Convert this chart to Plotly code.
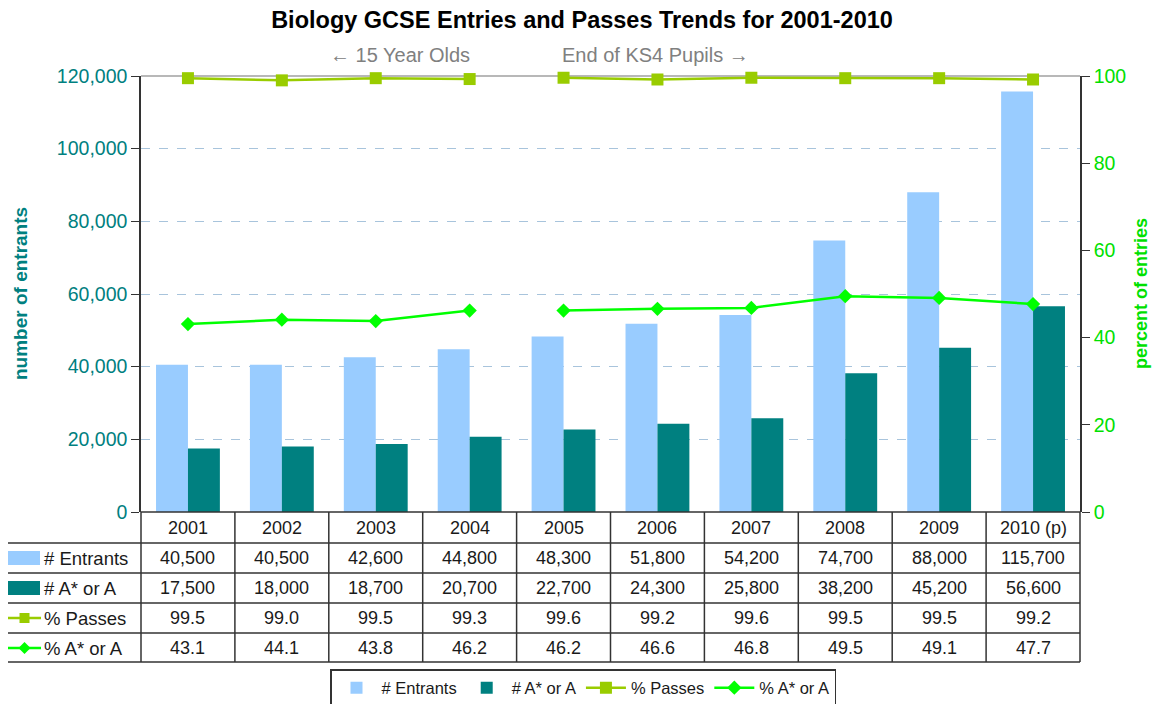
import plotly.graph_objects as go

years = ["2001", "2002", "2003", "2004", "2005", "2006", "2007", "2008", "2009", "2010 (p)"]
entrants = [40500, 40500, 42600, 44800, 48300, 51800, 54200, 74700, 88000, 115700]
a_star_a = [17500, 18000, 18700, 20700, 22700, 24300, 25800, 38200, 45200, 56600]
pct_passes = [99.5, 99.0, 99.5, 99.3, 99.6, 99.2, 99.6, 99.5, 99.5, 99.2]
pct_a_star = [43.1, 44.1, 43.8, 46.2, 46.2, 46.6, 46.8, 49.5, 49.1, 47.7]
series_names = ["# Entrants", "# A* or A", "% Passes", "% A* or A"]
cohort_break = 4  # lines break between 2004 (15 year olds) and 2005 (end of KS4 pupils)

C_ENT = "#99CCFF"
C_AA = "#008080"
C_PASS = "#99CC00"
C_PAA = "#00FF00"
C_RIGHT = "#00E000"
FONT = "Liberation Sans, Arial, sans-serif"

# the page body has an 8px margin, so the figure is drawn 8px smaller and coordinates
# below are given in screenshot pixels
OFF = 8
PAGE_W, PAGE_H = 1161, 704
W, H = PAGE_W - OFF, PAGE_H - OFF
L, R, T, B = 141, 1080, 76, 512  # plot area in screenshot pixels

def xp(px):
    return (px - L) / (R - L)

def yp(py):
    return (B - py) / (B - T)

idx = list(range(len(years)))
fig = go.Figure()
fig.add_trace(go.Bar(x=idx, y=entrants, name=series_names[0], marker_color=C_ENT,
                     marker_line_width=0))
fig.add_trace(go.Bar(x=idx, y=a_star_a, name=series_names[1], marker_color=C_AA,
                     marker_line_width=0))

segments = [(0, cohort_break), (cohort_break, len(years))]
for vals, name, color, sym, size in [(pct_passes, series_names[2], C_PASS, "square", 12),
                                     (pct_a_star, series_names[3], C_PAA, "diamond", 11)]:
    for k, (a, b) in enumerate(segments):
        fig.add_trace(go.Scatter(x=idx[a:b], y=vals[a:b], name=name, yaxis="y2",
                                 mode="lines+markers", legendgroup=name,
                                 showlegend=(k == 0), cliponaxis=False,
                                 line=dict(color=color, width=2.5),
                                 marker=dict(symbol=sym, size=size, color=color)))

shapes = []
line_c = "#333333"
# top border of plot
shapes.append(dict(type="line", xref="paper", yref="paper", x0=0, x1=1, y0=1, y1=1,
                   line=dict(color="#A0A0A0", width=1.5), layer="below"))
# table horizontal lines
shapes.append(dict(type="line", xref="paper", yref="paper", x0=0, x1=1, y0=yp(512), y1=yp(512),
                   line=dict(color=line_c, width=1.5)))
row_lines = [543, 573, 603, 633, 662]
for py in row_lines:
    shapes.append(dict(type="line", xref="paper", yref="paper", x0=xp(4), x1=1, y0=yp(py), y1=yp(py),
                       line=dict(color=line_c, width=1.5)))
# table vertical lines
shapes.append(dict(type="line", xref="paper", yref="paper", x0=xp(4), x1=xp(4), y0=yp(543), y1=yp(662),
                   line=dict(color=line_c, width=1.5)))
for k in range(len(years) + 1):
    xv = k / len(years)
    shapes.append(dict(type="line", xref="paper", yref="paper", x0=xv, x1=xv, y0=yp(512), y1=yp(662),
                       line=dict(color=line_c, width=1.5)))

annotations = []
TXT = "#1a1a1a"
# header row
for i, yr in enumerate(years):
    annotations.append(dict(x=i, xref="x", y=yp(528), yref="paper", text=yr, showarrow=False,
                            xanchor="center", yanchor="middle",
                            font=dict(size=18, color=TXT, family=FONT)))
rows = [
    ([f"{v:,}" for v in entrants], 558),
    ([f"{v:,}" for v in a_star_a], 588),
    ([f"{v:.1f}" for v in pct_passes], 618),
    ([f"{v:.1f}" for v in pct_a_star], 648),
]
for r, (vals, py) in enumerate(rows):
    annotations.append(dict(x=xp(42), xref="paper", y=yp(py), yref="paper", text=series_names[r],
                            showarrow=False, xanchor="left", yanchor="middle",
                            font=dict(size=18.5, color=TXT, family=FONT)))
    for i, v in enumerate(vals):
        annotations.append(dict(x=i, xref="x", y=yp(py), yref="paper", text=v, showarrow=False,
                                xanchor="center", yanchor="middle",
                                font=dict(size=18, color=TXT, family=FONT)))

# legend keys in table label column
shapes.append(dict(type="rect", xref="paper", yref="paper", x0=xp(8), x1=xp(40), y0=yp(551), y1=yp(565),
                   fillcolor=C_ENT, line=dict(width=0)))
shapes.append(dict(type="rect", xref="paper", yref="paper", x0=xp(8), x1=xp(40), y0=yp(581), y1=yp(595),
                   fillcolor=C_AA, line=dict(width=0)))
for py, color in [(618, C_PASS), (648, C_PAA)]:
    shapes.append(dict(type="line", xref="paper", yref="paper", x0=xp(8), x1=xp(41), y0=yp(py), y1=yp(py),
                       line=dict(color=color, width=2.5)))
shapes.append(dict(type="rect", xref="paper", yref="paper", x0=xp(19.5), x1=xp(29.5), y0=yp(613), y1=yp(623),
                   fillcolor=C_PASS, line=dict(width=0)))
cx, cy = 24.5, 648
path = f"M {xp(cx-6)},{yp(cy)} L {xp(cx)},{yp(cy-6)} L {xp(cx+6)},{yp(cy)} L {xp(cx)},{yp(cy+6)} Z"
shapes.append(dict(type="path", xref="paper", yref="paper", path=path, fillcolor=C_PAA, line=dict(width=0)))

# cohort annotations
annotations.append(dict(x=xp(400), xref="paper", y=yp(55), yref="paper", text="\u2190 15 Year Olds",
                        showarrow=False, xanchor="center", yanchor="middle",
                        font=dict(size=20, color="#808080", family=FONT)))
annotations.append(dict(x=xp(655), xref="paper", y=yp(55), yref="paper", text="End of KS4 Pupils \u2192",
                        showarrow=False, xanchor="center", yanchor="middle",
                        font=dict(size=20, color="#808080", family=FONT)))

# axis titles
annotations.append(dict(x=xp(20), xref="paper", y=yp(294), yref="paper", text="<b>number of entrants</b>",
                        textangle=-90, showarrow=False, xanchor="center", yanchor="middle",
                        font=dict(size=19, color=C_AA, family=FONT)))
annotations.append(dict(x=xp(1141), xref="paper", y=yp(294), yref="paper", text="<b>percent of entries</b>",
                        textangle=-90, showarrow=False, xanchor="center", yanchor="middle",
                        font=dict(size=18, color=C_RIGHT, family=FONT)))

fig.update_layout(
    width=W, height=H,
    margin=dict(l=L - OFF, r=W - (R - OFF), t=T - OFF, b=H - (B - OFF), autoexpand=False),
    paper_bgcolor="white", plot_bgcolor="white",
    font=dict(family=FONT),
    title=dict(text="<b>Biology GCSE Entries and Passes Trends for 2001-2010</b>",
               x=(582 - OFF) / W, xref="container", xanchor="center",
               y=1 - (20 - OFF) / H, yref="container", yanchor="middle",
               font=dict(size=23.5, color="#000000", family=FONT)),
    barmode="group", bargap=0.32, bargroupgap=0,
    xaxis=dict(range=[-0.5, len(years) - 0.5], showticklabels=False, showgrid=False,
               zeroline=False, ticks="", showline=False, fixedrange=True, automargin=False),
    yaxis=dict(range=[0, 120000], dtick=20000, tickformat=",", showgrid=True,
               gridcolor="#A8C4DC", griddash="dash", gridwidth=1, zeroline=False,
               showline=True, linecolor="#333333", linewidth=1.5, automargin=False,
               ticks="outside", ticklen=8, tickcolor="#333333",
               tickfont=dict(size=19.5, color=C_AA, family=FONT)),
    yaxis2=dict(range=[0, 100], dtick=20, overlaying="y", side="right", showgrid=False,
                zeroline=False, showline=True, linecolor="#333333", linewidth=1.5, automargin=False,
                ticks="outside", ticklen=8, tickcolor="#333333",
                tickfont=dict(size=19.5, color=C_RIGHT, family=FONT)),
    legend=dict(orientation="h", x=xp(583), xanchor="center", y=yp(669), yanchor="top",
                bordercolor="#333333", borderwidth=1.5, bgcolor="white", itemwidth=40,
                font=dict(size=16.5, color=TXT, family=FONT), traceorder="normal",
                tracegroupgap=0),
    shapes=shapes, annotations=annotations,
    showlegend=True,
)

fig.write_html("out.html")
